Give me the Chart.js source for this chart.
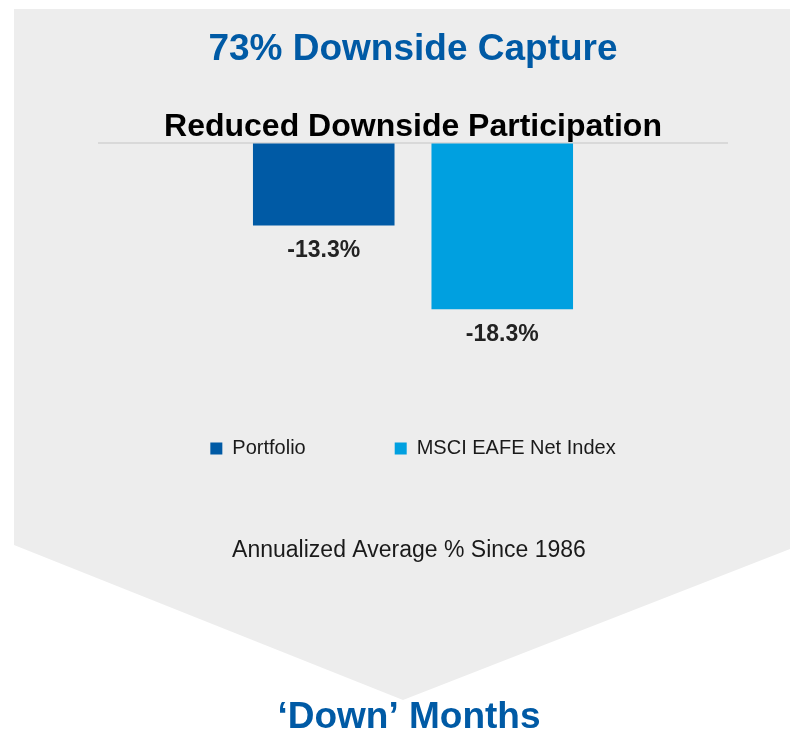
<!DOCTYPE html>
<html>
<head>
<meta charset="utf-8">
<script src="https://cdn.jsdelivr.net/npm/chart.js@4"></script>
<style>
  body { margin: 0; background: #fff; }
  #wrap { width: 790px; height: 734px; }
</style>
</head>
<body>
<div id="wrap"><canvas id="downside-chart" width="790" height="734"></canvas></div>
<script>
const categories = ["Down Months"];
const seriesNames = ["Portfolio", "MSCI EAFE Net Index"];
const portfolioValues = [-13.3];
const indexValues = [-18.3];
const axisMin = -20.7;
const axisMax = -8.4;

const blueDark = "#005aa5";
const blueLight = "#00a0e0";
const fontFamily = "'Liberation Sans', Arial, sans-serif";

// grey arrow behind the chart
const backdrop = {
  id: "backdrop",
  beforeDraw(chart) {
    const ctx = chart.ctx;
    ctx.save();
    ctx.fillStyle = "#fff";
    ctx.fillRect(0, 0, chart.width, chart.height);
    ctx.fillStyle = "#ededed";
    ctx.beginPath();
    ctx.moveTo(14, 9);
    ctx.lineTo(790, 9);
    ctx.lineTo(790, 549);
    ctx.lineTo(403, 700);
    ctx.lineTo(14, 545);
    ctx.closePath();
    ctx.fill();
    ctx.restore();
  },
};

// value labels under each bar + footer texts
const labels = {
  id: "labels",
  afterDatasetsDraw(chart) {
    const ctx = chart.ctx;
    ctx.save();
    ctx.font = `bold 23px ${fontFamily}`;
    ctx.fillStyle = "#222";
    ctx.textAlign = "center";
    ctx.textBaseline = "middle";
    chart.data.datasets.forEach((ds, i) => {
      chart.getDatasetMeta(i).data.forEach((bar, j) => {
        ctx.fillText(ds.data[j].toFixed(1) + "%", bar.x, bar.y + 25);
      });
    });
    ctx.restore();
  },
  afterDraw(chart) {
    const ctx = chart.ctx;
    ctx.save();
    ctx.textAlign = "center";
    ctx.textBaseline = "middle";
    ctx.fillStyle = "#1a1a1a";
    ctx.font = `23px ${fontFamily}`;
    ctx.fillText("Annualized Average % Since 1986", 409, 551);
    ctx.fillStyle = blueDark;
    ctx.font = `bold 37px ${fontFamily}`;
    ctx.fillText("\u2018Down\u2019 Months", 409, 718);
    ctx.restore();
  },
};

new Chart(document.getElementById("downside-chart"), {
  type: "bar",
  data: {
    labels: categories,
    datasets: [
      {
        label: seriesNames[0],
        data: portfolioValues,
        backgroundColor: blueDark,
        borderWidth: 0,
        categoryPercentage: 0.5685,
        barPercentage: 0.793,
      },
      {
        label: seriesNames[1],
        data: indexValues,
        backgroundColor: blueLight,
        borderWidth: 0,
        categoryPercentage: 0.5685,
        barPercentage: 0.793,
      },
    ],
  },
  options: {
    responsive: false,
    animation: false,
    layout: { padding: { left: 99, right: 63, top: 0, bottom: 265.5 } },
    plugins: {
      tooltip: { enabled: false },
      title: {
        display: true,
        text: "73% Downside Capture",
        color: blueDark,
        font: { family: fontFamily, size: 37, weight: "bold", lineHeight: 1.2 },
        padding: { top: 28, bottom: 39 },
      },
      subtitle: {
        display: true,
        text: "Reduced Downside Participation",
        color: "#000",
        font: { family: fontFamily, size: 32, weight: "bold", lineHeight: 1.0 },
        padding: { top: 0, bottom: 0 },
      },
      legend: {
        position: "bottom",
        labels: {
          boxWidth: 12,
          boxHeight: 12,
          padding: 89,
          color: "#1a1a1a",
          font: { family: fontFamily, size: 20 },
        },
      },
    },
    scales: {
      x: {
        position: "top",
        grid: { display: false, drawTicks: false },
        ticks: { display: false },
        border: { display: true, color: "#d9d9d9", width: 2 },
      },
      y: {
        display: false,
        min: axisMin,
        max: axisMax,
      },
    },
  },
  plugins: [backdrop, labels],
});
</script>
</body>
</html>
